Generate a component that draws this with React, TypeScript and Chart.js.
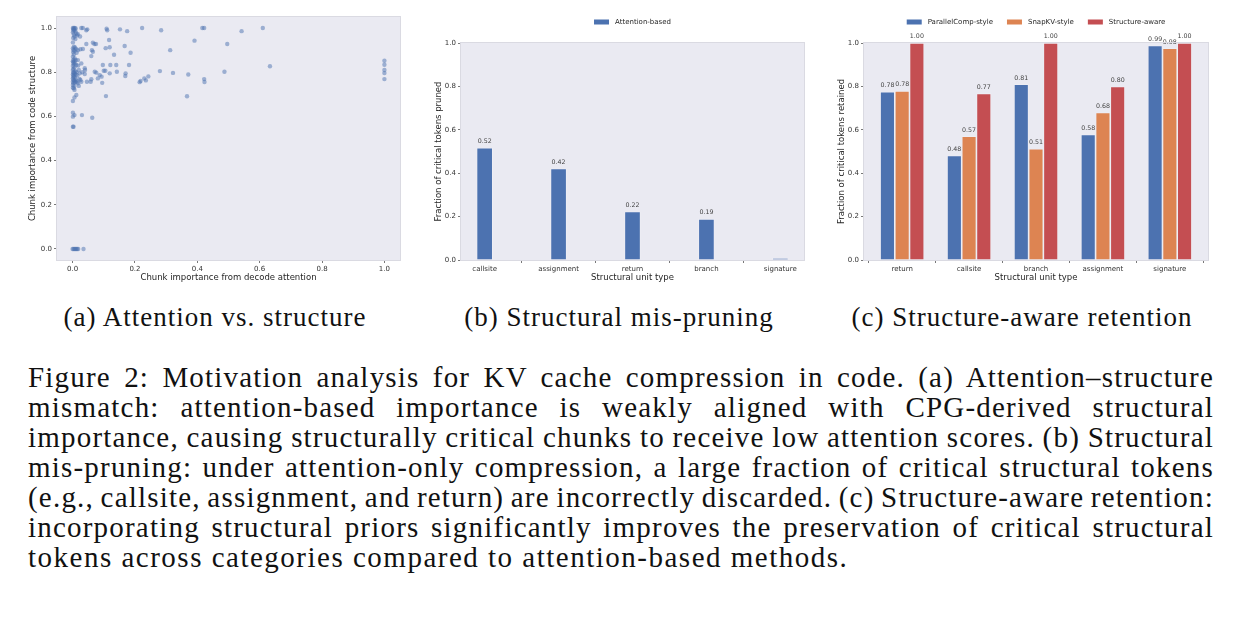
import { useEffect, useRef } from 'react';
import { Chart, registerables } from 'chart.js';

Chart.register(...registerables);

const BLUE = '#4C72B0';
const ORANGE = '#DD8452';
const RED = '#C44E52';
const PANEL_BG = '#EAEAF2';
const FONT = "'DejaVu Sans', sans-serif";
const SERIF = "'Liberation Serif', serif";

// (a) attention vs structure, one entry per chunk
const attnX = [
  0.001, 0.004, 0.007, 0.010, 0.002, 0.006, 0.003, 0.009, 0.001, 0.012, 0.004, 0.014, 0.006, 0.002, 0.009, 0.001,
  0.004, 0.008, 0.001, 0.011, 0.003, 0.006, 0.002, 0.013, 0.004, 0.001, 0.007, 0.003, 0.010, 0.001, 0.005, 0.002,
  0.008, 0.004, 0.012, 0.001, 0.006, 0.003, 0.001, 0.009, 0.004, 0.012, 0.002, 0.007, 0.001, 0.010, 0.004, 0.015,
  0.002, 0.006, 0.001, 0.009, 0.003, 0.012, 0.005, 0.001, 0.008, 0.014, 0.003, 0.001, 0.006, 0.001, 0.004, 0.006,
  0.012, 0.006, 0.001, 0.001, 0.006, 0.001, 0.003, 0.001,
  0.000, 0.003, 0.006, 0.009, 0.012, 0.015, 0.018, 0.035,
  0.028, 0.033, 0.044, 0.047, 0.017, 0.024, 0.017, 0.025, 0.033, 0.017, 0.028, 0.039, 0.040, 0.023, 0.031, 0.039,
  0.025, 0.028, 0.017, 0.020, 0.044, 0.046, 0.030, 0.020, 0.022, 0.018,
  0.062, 0.065, 0.060, 0.065, 0.070, 0.075, 0.071, 0.076, 0.060, 0.058, 0.081, 0.087, 0.093, 0.095, 0.063,
  0.097, 0.100, 0.105, 0.106, 0.107, 0.109, 0.111, 0.117, 0.119, 0.119, 0.121, 0.133, 0.140, 0.142, 0.152, 0.167,
  0.169, 0.170, 0.175, 0.181, 0.186,
  0.215, 0.218, 0.223, 0.230, 0.235, 0.243, 0.280, 0.284, 0.313, 0.322, 0.367, 0.371, 0.391, 0.416, 0.422, 0.422,
  0.423, 0.487, 0.496, 0.542, 0.610, 0.633,
  1.0, 1.0, 1.0, 1.0, 1.0,
];
const structY = [
  1.0, 1.0, 1.0, 0.998, 0.995, 0.992, 0.988, 0.985, 0.98, 0.975, 0.97, 0.966, 0.962, 0.955, 0.95, 0.935,
  0.915, 0.912, 0.908, 0.905, 0.9, 0.897, 0.89, 0.888, 0.88, 0.87, 0.862, 0.857, 0.855, 0.85, 0.848, 0.843,
  0.84, 0.835, 0.833, 0.828, 0.822, 0.815, 0.81, 0.805, 0.8, 0.8, 0.797, 0.795, 0.79, 0.788, 0.785, 0.785,
  0.78, 0.777, 0.772, 0.768, 0.765, 0.762, 0.76, 0.757, 0.755, 0.755, 0.75, 0.742, 0.738, 0.73, 0.727, 0.72,
  0.697, 0.686, 0.67, 0.617, 0.606, 0.599, 0.553, 0.553,
  0, 0, 0, 0, 0, 0, 0, 0,
  1.0, 1.0, 0.99, 0.994, 0.972, 0.962, 0.9, 0.904, 0.905, 0.855, 0.84, 0.818, 0.81, 0.795, 0.8, 0.792,
  0.765, 0.757, 0.75, 0.738, 0.928, 0.757, 0.606, 0.81, 0.77, 0.83,
  0.9, 0.893, 0.873, 0.934, 0.928, 0.928, 0.802, 0.798, 0.768, 0.757, 0.772, 0.787, 0.78, 0.752, 0.594,
  0.833, 0.807, 0.807, 0.909, 0.692, 0.997, 0.99, 0.946, 0.913, 0.795, 0.833, 0.879, 0.833, 0.802, 0.994, 0.919,
  0.783, 0.795, 0.986, 0.833, 0.888,
  0.755, 0.76, 1.0, 0.772, 0.763, 0.781, 0.805, 0.99, 0.9, 0.797, 0.691, 0.79, 0.943, 1.0, 1.0, 0.769,
  0.756, 0.802, 0.928, 0.986, 1.0, 0.827,
  0.852, 0.834, 0.81, 0.796, 0.769,
];

// (b) structural mis-pruning
const prunedCats = ['callsite', 'assignment', 'return', 'branch', 'signature'];
const prunedAttention = [0.517, 0.422, 0.224, 0.189, 0.009];

// (c) structure-aware retention
const retainedCats = ['return', 'callsite', 'branch', 'assignment', 'signature'];
const retainedParallel = [0.776, 0.482, 0.81, 0.578, 0.989];
const retainedSnap = [0.779, 0.57, 0.513, 0.68, 0.976];
const retainedStruct = [1.0, 0.768, 1.0, 0.8, 1.0];

const captionLines = [
  'Figure 2: Motivation analysis for KV cache compression in code. (a) Attention\u2013structure',
  'mismatch: attention-based importance is weakly aligned with CPG-derived structural',
  'importance, causing structurally critical chunks to receive low attention scores. (b) Structural',
  'mis-pruning: under attention-only compression, a large fraction of critical structural tokens',
  '(e.g., callsite, assignment, and return) are incorrectly discarded. (c) Structure-aware retention:',
  'incorporating structural priors significantly improves the preservation of critical structural',
  'tokens across categories compared to attention-based methods.',
];

Chart.defaults.font.family = FONT;

const tickFont = { family: FONT, size: 7 };
const titleFont = { family: FONT, size: 8.5 };

const panelFrame = {
  id: 'panelFrame',
  beforeDraw(chart: any) {
    const { ctx, chartArea: a } = chart;
    ctx.save();
    ctx.fillStyle = PANEL_BG;
    ctx.fillRect(a.left, a.top, a.right - a.left, a.bottom - a.top);
    ctx.restore();
  },
  afterDraw(chart: any) {
    const { ctx, chartArea: a } = chart;
    ctx.save();
    ctx.strokeStyle = '#dadae2';
    ctx.lineWidth = 1;
    ctx.strokeRect(a.left - 0.5, a.top - 0.5, a.right - a.left + 1, a.bottom - a.top + 1);
    ctx.restore();
  },
};

const barValues = {
  id: 'barValues',
  afterDatasetsDraw(chart: any) {
    const { ctx } = chart;
    ctx.save();
    ctx.font = `6.3px ${FONT}`;
    ctx.fillStyle = '#444';
    ctx.textAlign = 'center';
    ctx.textBaseline = 'bottom';
    chart.data.datasets.forEach((ds: any, i: number) => {
      chart.getDatasetMeta(i).data.forEach((bar: any, j: number) => {
        const v = ds.data[j].y;
        if (v < 0.05) return;
        ctx.fillText(v.toFixed(2), bar.x, bar.y - 3);
      });
    });
    ctx.restore();
  },
};

const topLegend = {
  id: 'topLegend',
  afterDraw(chart: any, _args: any, opts: any) {
    const { ctx, chartArea: a } = chart;
    const items = chart.data.datasets.map((ds: any) => ({ text: ds.label, color: ds.backgroundColor }));
    ctx.save();
    ctx.font = `7px ${FONT}`;
    const sw = 15, gap = 6, sep = 14;
    const widths = items.map((it: any) => sw + gap + ctx.measureText(it.text).width);
    const total = widths.reduce((s: number, w: number) => s + w, 0) + sep * (items.length - 1);
    let x = (a.left + a.right) / 2 - total / 2;
    items.forEach((it: any, i: number) => {
      ctx.fillStyle = it.color;
      ctx.fillRect(x, opts.y - 2.5, sw, 5);
      ctx.fillStyle = '#262626';
      ctx.textBaseline = 'middle';
      ctx.textAlign = 'left';
      ctx.fillText(it.text, x + sw + gap, opts.y);
      x += widths[i] + sep;
    });
    ctx.restore();
  },
};

function axisGrid() {
  return { display: true, drawOnChartArea: false, drawTicks: true, tickLength: 3, tickColor: '#555', tickWidth: 0.8 };
}

function valueAxis(min: number, max: number, width: number, text: string, titlePad: number) {
  return {
    type: 'linear',
    min,
    max,
    afterFit: (s: any) => { s.width = width; },
    grid: axisGrid(),
    border: { display: false },
    ticks: {
      stepSize: 0.2,
      includeBounds: false,
      padding: 2,
      color: '#333',
      font: tickFont,
      callback: (v: number) => v.toFixed(1),
    },
    title: { display: true, text, color: '#262626', font: titleFont, padding: { top: titlePad, bottom: 0 } },
  };
}

function categoryAxis(cats: string[], min: number, max: number) {
  return {
    type: 'linear',
    min,
    max,
    offset: false,
    afterFit: (s: any) => { s.height = 30; },
    grid: axisGrid(),
    border: { display: false },
    ticks: {
      stepSize: 1,
      includeBounds: false,
      autoSkip: false,
      maxRotation: 0,
      padding: 2,
      color: '#333',
      font: tickFont,
      callback: (v: number) => cats[v] ?? '',
    },
    title: { display: true, text: 'Structural unit type', color: '#262626', font: titleFont, padding: { top: 0, bottom: 7 } },
  };
}

function ChartCanvas({ build, left, top, width, height }: any) {
  const canvasRef = useRef<HTMLCanvasElement | null>(null);
  useEffect(() => {
    const ctx = canvasRef.current?.getContext('2d');
    if (!ctx) return;
    const chart = new Chart(ctx, build());
    return () => chart.destroy();
  }, []);
  return (
    <canvas
      ref={canvasRef}
      width={width}
      height={height}
      style={{ position: 'absolute', left, top, width, height }}
    />
  );
}

function scatterConfig(): any {
  return {
    type: 'scatter',
    data: {
      datasets: [{
        label: 'chunks',
        data: attnX.map((x, i) => ({ x, y: structY[i] })),
        backgroundColor: 'rgba(76,114,176,0.5)',
        borderWidth: 0,
        pointRadius: 2.2,
      }],
    },
    options: {
      responsive: false,
      animation: false,
      layout: { padding: { left: 0, right: 10, top: 17, bottom: 0 } },
      plugins: { legend: { display: false }, tooltip: { enabled: false } },
      scales: {
        x: {
          ...valueAxis(-0.05, 1.05, 0, 'Chunk importance from decode attention', 0),
          afterFit: (s: any) => { s.height = 30; },
          title: { display: true, text: 'Chunk importance from decode attention', color: '#262626', font: titleFont, padding: { top: 0, bottom: 7 } },
        },
        y: valueAxis(-0.05, 1.05, 57, 'Chunk importance from code structure', 28),
      },
    },
    plugins: [panelFrame],
  };
}

function barStyle(color: string) {
  return { backgroundColor: color, borderColor: 'rgba(255,255,255,0.3)', borderWidth: 0.8, barPercentage: 1 };
}

function prunedConfig(): any {
  return {
    type: 'bar',
    data: {
      datasets: [{
        label: 'Attention-based',
        data: prunedAttention.map((y, i) => ({ x: i, y })),
        ...barStyle(BLUE),
        categoryPercentage: 0.22,
      }],
    },
    options: {
      responsive: false,
      animation: false,
      layout: { padding: { left: 0, right: 6, top: 43, bottom: 0 } },
      plugins: { legend: { display: false }, tooltip: { enabled: false }, topLegend: { y: 22 } },
      scales: {
        x: categoryAxis(prunedCats, -0.32, 4.32),
        y: valueAxis(0, 1, 51, 'Fraction of critical tokens pruned', 24),
      },
    },
    plugins: [panelFrame, barValues, topLegend],
  };
}

function retainedConfig(): any {
  const series = [
    { label: 'ParallelComp-style', values: retainedParallel, color: BLUE },
    { label: 'SnapKV-style', values: retainedSnap, color: ORANGE },
    { label: 'Structure-aware', values: retainedStruct, color: RED },
  ];
  return {
    type: 'bar',
    data: {
      datasets: series.map((s) => ({
        label: s.label,
        data: s.values.map((y, i) => ({ x: i, y })),
        ...barStyle(s.color),
        categoryPercentage: 0.66,
      })),
    },
    options: {
      responsive: false,
      animation: false,
      layout: { padding: { left: 0, right: 33, top: 43, bottom: 0 } },
      plugins: { legend: { display: false }, tooltip: { enabled: false }, topLegend: { y: 22 } },
      scales: {
        x: categoryAxis(retainedCats, -0.57, 4.57),
        y: valueAxis(0, 1, 44, 'Fraction of critical tokens retained', 17),
      },
    },
    plugins: [panelFrame, barValues, topLegend],
  };
}

const subCaption = (center: number, text: string) => (
  <div
    style={{
      position: 'absolute', left: center - 220, width: 440, top: 302, textAlign: 'center',
      fontFamily: SERIF, fontSize: 27, letterSpacing: '1px', lineHeight: '30px', color: '#111',
    }}
  >
    {text}
  </div>
);

export default function App() {
  const last = captionLines.length - 1;
  return (
    <div style={{ position: 'absolute', left: 0, top: 0, width: 1241, height: 619, background: '#fff', overflow: 'hidden' }}>
      <ChartCanvas build={scatterConfig} left={0} top={0} width={410} height={290} />
      <ChartCanvas build={prunedConfig} left={410} top={0} width={400} height={290} />
      <ChartCanvas build={retainedConfig} left={820} top={0} width={421} height={290} />
      {subCaption(215, '(a) Attention vs. structure')}
      {subCaption(619, '(b) Structural mis-pruning')}
      {subCaption(1022, '(c) Structure-aware retention')}
      <div
        style={{
          position: 'absolute', left: 28, top: 362, width: 1186, fontFamily: SERIF, fontSize: 29,
          lineHeight: '30px', color: '#111',
        }}
      >
        {captionLines.map((line, i) => (
          <div
            key={i}
            style={{
              whiteSpace: 'nowrap',
              letterSpacing: i < last ? '1.2px' : '1.5px',
              wordSpacing: i < last ? '-4px' : '0px',
              textAlign: i < last ? 'justify' : 'left',
              textAlignLast: i < last ? 'justify' : 'left',
            }}
          >
            {line}
          </div>
        ))}
      </div>
    </div>
  );
}
